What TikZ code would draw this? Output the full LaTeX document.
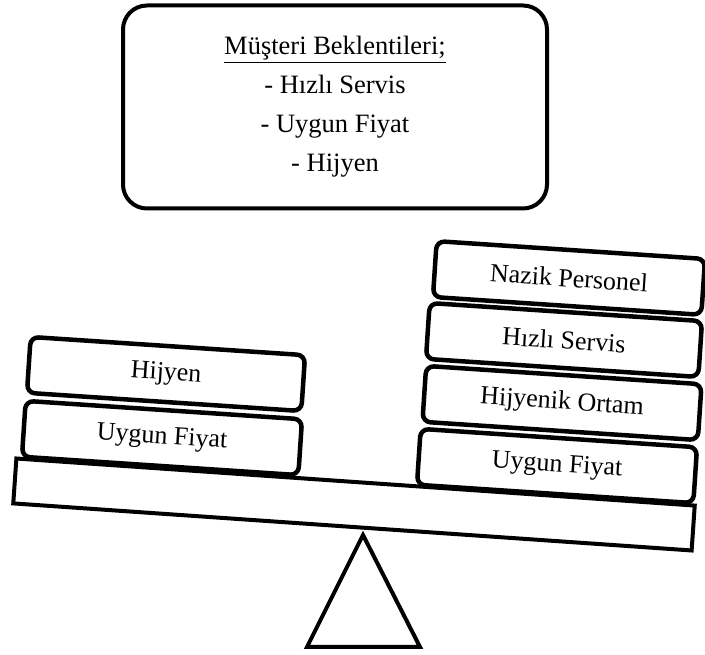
\documentclass[tikz,border=0pt]{standalone}
\usepackage{fontspec}
\setmainfont{Liberation Serif}
\begin{document}
\begin{tikzpicture}[x=1pt,y=1pt,
  card/.style={draw, line width=4.5pt, rounded corners=8pt, fill=white,
    rotate=-3.8, minimum height=56pt, inner sep=0pt,
    font=\fontsize{26}{30}\selectfont},
  beam/.style={draw, line width=4pt, fill=white, rotate=-3.97,
    minimum width=680pt, minimum height=45pt, inner sep=0pt},
  note/.style={draw, line width=4pt, rounded corners=24pt,
    minimum width=424pt, minimum height=203pt, align=center,
    font=\fontsize{26.5}{39}\selectfont}]
\useasboundingbox (0,0) rectangle (705,655);

% expectations box
\node[note] (expect) at (335,548)
  {\underline{Müşteri Beklentileri;}\\- Hızlı Servis\\- Uygun Fiyat\\- Hijyen};

% fulcrum
\coordinate (apex) at (363,120);
\coordinate (bl) at (307,8);
\coordinate (br) at (420,8);
\draw[line width=4pt, line join=miter] (apex) -- (bl) -- (br) -- cycle;

% balance beam
\node[beam] (plank) at (354,150.5) {};

% left pan
\node[card, minimum width=277pt] (lprice) at (162,217) {Uygun Fiyat};
\node[card, minimum width=275pt] (lhyg) at (166,281) {Hijyen};

% right pan
\node[card, minimum width=277pt] (rprice) at (557,189) {Uygun Fiyat};
\node[card, minimum width=276pt] (rhyg) at (562,252) {Hijyenik Ortam};
\node[card, minimum width=273pt] (rfast) at (564,315) {Hızlı Servis};
\node[card, minimum width=269pt] (rstaff) at (569,377) {Nazik Personel};
\end{tikzpicture}
\end{document}
